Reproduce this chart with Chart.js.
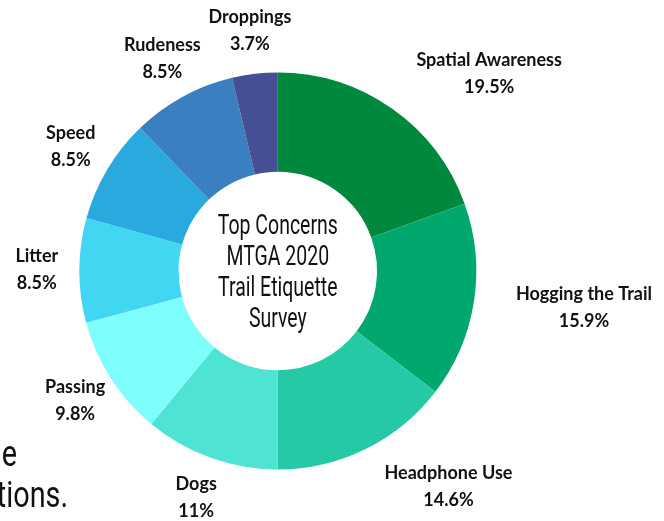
<!DOCTYPE html>
<html>
<head>
<meta charset="utf-8">
<script src="https://cdn.jsdelivr.net/npm/chart.js@4/dist/chart.umd.min.js"></script>
<style>
html,body{margin:0;padding:0;background:#fff;}
#wrap{position:relative;width:664px;height:521px;}
</style>
</head>
<body>
<div id="wrap"><canvas id="c" width="664" height="521"></canvas></div>
<script>
const categories = ["Spatial Awareness","Hogging the Trail","Headphone Use","Dogs","Passing","Litter","Speed","Rudeness","Droppings"];
const values = [19.5, 15.9, 14.6, 11, 9.8, 8.5, 8.5, 8.5, 3.7];
const colors = ["#00893e","#00a86e","#26c9a5","#4fe3d3","#7ffefe","#41d6f2","#29a9dd","#3a80c1","#464f94"];
const centerLines = ["Top Concerns","MTGA 2020","Trail Etiquette","Survey"];
const fragments = ["e","tions."];

const labelPlugin = {
  id: 'labels',
  afterDraw(chart) {
    const ctx = chart.ctx;
    const meta = chart.getDatasetMeta(0);
    ctx.save();
    ctx.fillStyle = '#111';
    ctx.textBaseline = 'middle';
    ctx.textAlign = 'center';
    ctx.font = 'bold 18px Lato';
    meta.data.forEach((arc, i) => {
      const p = arc.getProps(['x','y','startAngle','endAngle','outerRadius'], true);
      const mid = (p.startAngle + p.endAngle) / 2;
      const r = p.outerRadius + 42.5;
      let ax = p.x + Math.cos(mid) * r;
      const ay = p.y + Math.sin(mid) * r;
      const l1 = categories[i], l2 = values[i] + '%';
      const w = Math.max(ctx.measureText(l1).width, ctx.measureText(l2).width);
      if (Math.cos(mid) > 0.05) ax += w / 2;
      ctx.fillText(l1, ax, ay - 14);
      ctx.fillText(l2, ax, ay + 13);
    });
    // center text
    const a0 = meta.data[0];
    const cx = a0.x, cy = a0.y + 2.5;
    ctx.font = '27px Roboto';
    ctx.fillStyle = '#111';
    const sx = 120 / ctx.measureText(centerLines[0]).width;
    centerLines.forEach((t, k) => {
      const y = cy + (k - (centerLines.length - 1) / 2) * 31;
      ctx.save();
      ctx.translate(cx, y);
      ctx.scale(sx, 1);
      ctx.fillText(t, 0, 0);
      ctx.restore();
    });
    // background fragments
    ctx.textAlign = 'right';
    ctx.textBaseline = 'alphabetic';
    ctx.font = '36px Roboto';
    ctx.fillStyle = '#111';
    const fs = 0.8;
    ctx.save(); ctx.translate(17, 466); ctx.scale(fs, 1); ctx.fillText(fragments[0], 0, 0); ctx.restore();
    ctx.save(); ctx.translate(68, 507); ctx.scale(fs, 1); ctx.fillText(fragments[1], 0, 0); ctx.restore();
    ctx.restore();
  }
};

new Chart(document.getElementById('c'), {
  type: 'doughnut',
  data: {
    labels: categories,
    datasets: [{ data: values, backgroundColor: colors, borderWidth: 0 }]
  },
  options: {
    responsive: false,
    animation: false,
    cutout: '50%',
    layout: { padding: { left: 79.3, top: 72.5, right: 187.7, bottom: 51.5 } },
    plugins: { legend: { display: false }, tooltip: { enabled: false } }
  },
  plugins: [labelPlugin]
});
</script>
</body>
</html>
